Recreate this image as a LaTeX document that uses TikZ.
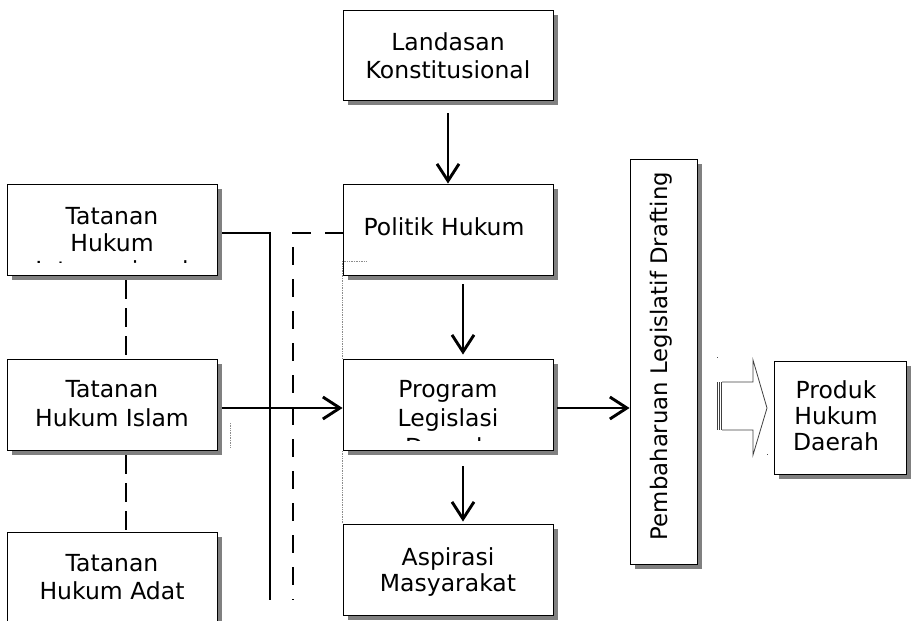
\documentclass[tikz,border=0pt]{standalone}
\usepackage{fontspec}
\setmainfont{DejaVu Sans}
\usetikzlibrary{arrows.meta,shadows}
\definecolor{shadowgray}{RGB}{128,128,128}
\definecolor{dotgray}{RGB}{140,140,140}
\begin{document}
\begin{tikzpicture}[x=1pt,y=-1pt,
  box/.style={draw=black, line width=0.9pt, fill=white, inner sep=0pt,
    drop shadow={shadow xshift=5pt, shadow yshift=-5pt, fill=shadowgray, opacity=1}},
  lbl/.style={inner sep=0pt, align=center, font=\fontsize{23.5}{#1}\selectfont, anchor=north},
  lbl/.default=28,
  conn/.style={line width=2.9pt},
  arr/.style={conn, -{Straight Barb[length=17pt,width=22pt]}},
  dsh/.style={line width=2.9pt, dash pattern=on 18pt off 14pt},
  ldsh/.style={line width=2.9pt, dash pattern=on 19pt off 9pt},
  art/.style={dotgray, line width=0.7pt, densely dotted},
  barrow/.style={black!75, line width=0.8pt}
]
\useasboundingbox (0,0) rectangle (911,621);
\clip (0,0) rectangle (911,621);

% boxes
\node[box, minimum width=210pt, minimum height=90pt] (land) at (448,55) {};
\node[box, minimum width=210pt, minimum height=91pt] (pol) at (448,229.5) {};
\node[box, minimum width=210pt, minimum height=91pt] (prog) at (448,404.5) {};
\node[box, minimum width=210pt, minimum height=91pt] (asp) at (448,569.5) {};
\node[box, minimum width=210pt, minimum height=91pt] (tth) at (112,229.5) {};
\node[box, minimum width=210pt, minimum height=91pt] (thi) at (112,404.5) {};
\node[box, minimum width=210pt, minimum height=100pt] (tha) at (112,582) {};
\node[box, minimum width=67pt, minimum height=405pt] (pem) at (663.5,361.5) {};
\node[box, minimum width=132pt, minimum height=113pt] (prod) at (840,417.5) {};

% texts
\node[lbl=28] (landT) at (448,32.5) {Landasan\\Konstitusional};
\node[lbl] (polT) at (444,217.5) {Politik Hukum};
\begin{scope}
  \clip (343,359) rectangle (553,440);
  \node[lbl=29] (progT) at (448,380.5) {Program\\Legislasi\\Daerah};
\end{scope}
\node[lbl=26] (aspT) at (448,547.5) {Aspirasi\\Masyarakat};
\begin{scope}
  \clip (7,184) rectangle (217,262.5);
  \node[lbl=27] (tthT) at (112,207.5) {Tatanan\\Hukum\\Internasional};
\end{scope}
\node[lbl=29] (thiT) at (112,380.5) {Tatanan\\Hukum Islam};
\node[lbl=28] (thaT) at (112,554.5) {Tatanan\\Hukum Adat};
\node[lbl=26] (prodT) at (836,380.5) {Produk\\Hukum\\Daerah};
\node[inner sep=0pt, font=\fontsize{22.8}{28}\selectfont, rotate=90, anchor=base] (pemT) at (667,356) {Pembaharuan Legislatif Drafting};

% connectors
\draw[arr, shorten <=13pt] (land) -- (pol);
\draw[arr, shorten <=9pt, shorten >=4pt] ([xshift=15pt]pol.south) -- ([xshift=15pt]prog.north);
\draw[arr, shorten <=16pt, shorten >=2pt] ([xshift=15pt]prog.south) -- ([xshift=15pt]asp.north);
\draw[arr, shorten <=4pt] ([yshift=-3.5pt]prog.east) -- ([yshift=-3.5pt]prog.east -| pem.west);
\draw[arr, shorten <=5pt] ([yshift=-3.5pt]thi.east) -- ([yshift=-3.5pt]prog.west);

\coordinate (tthEnd) at (270,600);
\draw[conn] ([xshift=5pt,yshift=-3.5pt]tth.east) -| (tthEnd);
\coordinate (polEnd) at (293,600);
\draw[dsh] ([yshift=-3.5pt]pol.west) -| (polEnd);

\draw[ldsh, shorten <=5pt] ([xshift=14pt]tth.south) -- ([xshift=14pt]thi.north);
\draw[ldsh, shorten <=5pt] ([xshift=14pt]thi.south) -- ([xshift=14pt]tha.north);

% block arrow towards product
\draw[barrow] (722,382) -- (753,382) -- (753,360) -- (767,408) -- (753,455) -- (753,430) -- (722,430);
\draw[barrow, line width=0.6pt] (717.5,382) -- (717.5,430) (719.5,382) -- (719.5,430) (721.5,382) -- (721.5,430);

% faint artefacts
\draw[art] (342,261) -- (366,261);
\draw[art] (342,261) -- (342,358);
\draw[art] (342,451) -- (342,523);
\draw[art] (230,423) -- (230,448);
\fill[black!70] (717,357) rectangle +(1,1);
\fill[black!70] (767,454) rectangle +(1,1);
\end{tikzpicture}
\end{document}
